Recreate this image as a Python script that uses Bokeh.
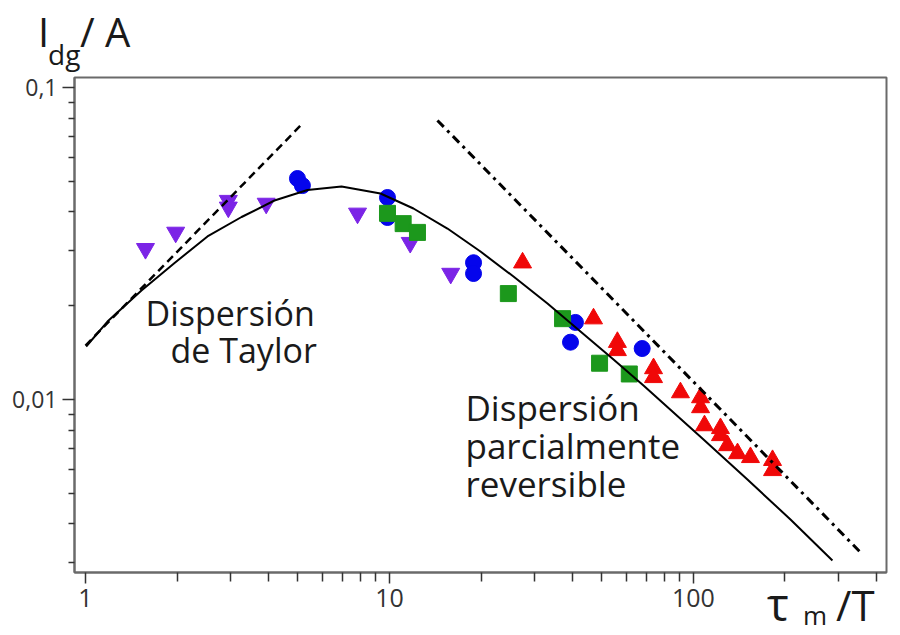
from bokeh.plotting import figure
from bokeh.models import FixedTicker, Label, Range1d, Div
from bokeh.layouts import column
from bokeh.embed import file_html
from bokeh.resources import INLINE

# ---------------- data ----------------
purple_x = [1.575, 1.98, 2.95, 2.95, 3.93, 7.85, 11.7, 15.9]
purple_y = [0.0305, 0.0344, 0.0435, 0.0414, 0.0426, 0.0396, 0.0319, 0.0254]

blue_x = [4.98, 5.17, 9.85, 9.85, 18.9, 18.9, 40.9, 39.4, 67.8]
blue_y = [0.0512, 0.0486, 0.0445, 0.0384, 0.0275, 0.0254, 0.0177, 0.0153, 0.0146]

green_x = [9.85, 11.09, 12.36, 24.6, 37.1, 49.1, 61.5]
green_y = [0.0396, 0.0367, 0.0344, 0.0219, 0.0182, 0.0131, 0.0121]

red_x = [27.4, 46.9, 56.2, 56.2, 73.9, 73.9, 90.6, 105.5, 105.5, 108.7,
         122.7, 122.7, 129.4, 139.6, 154.0, 182.0, 182.0]
red_y = [0.0275, 0.0182, 0.0153, 0.0144, 0.0126, 0.0118, 0.01055, 0.01017,
         0.00945, 0.00827, 0.0081, 0.00769, 0.00714, 0.00673, 0.00654,
         0.0064, 0.00594]

curve_x = [1.005, 1.181, 1.528, 1.963, 2.519, 3.261, 4.184, 5.374, 6.953,
           9.341, 11.99, 15.51, 19.92, 25.58, 33.09, 42.49, 54.57, 68.48,
           107.9, 150.5, 208.5, 286.5]
curve_y = [0.01482, 0.01782, 0.02240, 0.02745, 0.03338, 0.03854, 0.04353,
           0.04704, 0.04827, 0.04583, 0.04104, 0.03540, 0.02987, 0.02484,
           0.02035, 0.01656, 0.01346, 0.01111, 0.007459, 0.005554, 0.004134,
           0.003055]

taylor_x = [1.0, 5.10]
taylor_y = [0.01493, 0.0757]

reversible_x = [14.38, 354.0]
reversible_y = [0.0786, 0.003247]

x_ticks = [1, 10, 100]
x_tick_labels = ["1", "10", "100"]
x_minor = [2, 3, 4, 5, 6, 7, 8, 9, 20, 30, 40, 50, 60, 70, 80, 90, 200, 300, 400]
y_ticks = [0.01, 0.1]
y_tick_labels = ["0,01", "0,1"]
y_minor = [0.003, 0.004, 0.005, 0.006, 0.007, 0.008, 0.009,
           0.02, 0.03, 0.04, 0.05, 0.06, 0.07, 0.08, 0.09]

# axis titles
y_title = ["I", "dg", "/ A"]
x_title = ["τ", "m", "/T"]

FONT = "Open Sans"
TXT = "#1a1a1a"
PURPLE = "#7B24E6"
BLUE = "#0505EC"
GREEN = "#1C981C"
RED = "#F00808"

p = figure(width=900, height=635, x_axis_type="log", y_axis_type="log",
           x_range=Range1d(0.92, 431.5), y_range=Range1d(0.002796, 0.1079),
           output_backend="svg", toolbar_location=None,
           min_border_left=74, min_border_right=14, min_border_top=77,
           min_border_bottom=63)
p.grid.visible = False
p.outline_line_color = "#6a6a6a"
p.outline_line_width = 2
p.background_fill_color = "white"
p.border_fill_color = "white"

p.xaxis.ticker = FixedTicker(ticks=x_ticks, minor_ticks=x_minor)
p.yaxis.ticker = FixedTicker(ticks=y_ticks, minor_ticks=y_minor)
p.xaxis.major_label_overrides = dict(zip(x_ticks, x_tick_labels))
p.yaxis.major_label_overrides = dict(zip(y_ticks, y_tick_labels))

for ax in (p.xaxis, p.yaxis):
    ax.axis_line_color = "#6a6a6a"
    ax.axis_line_width = 2
    ax.major_tick_line_color = "#333333"
    ax.minor_tick_line_color = "#333333"
    ax.major_tick_line_width = 1.5
    ax.minor_tick_line_width = 1.5
    ax.major_tick_in = 0
    ax.minor_tick_in = 0
    ax.major_label_text_font = FONT
    ax.major_label_text_color = "#333333"
    ax.major_label_standoff = 5
p.xaxis.major_tick_out = 11
p.xaxis.minor_tick_out = 9
p.yaxis.major_tick_out = 12
p.yaxis.minor_tick_out = 6
p.xaxis.major_label_text_font_size = "25px"
p.yaxis.major_label_text_font_size = "23px"

# markers
p.scatter(purple_x, purple_y, marker="inverted_triangle", size=18,
          fill_color=PURPLE, line_color=PURPLE)
p.scatter(blue_x, blue_y, marker="circle", size=16,
          fill_color=BLUE, line_color=BLUE)
p.scatter(green_x, green_y, marker="square", size=16,
          fill_color=GREEN, line_color=GREEN)
p.scatter(red_x, red_y, marker="triangle", size=18,
          fill_color=RED, line_color=RED)

# lines
p.line(curve_x, curve_y, line_color="black", line_width=2)
p.line(taylor_x, taylor_y, line_color="black", line_width=2.5, line_dash="8 5")
p.line(reversible_x, reversible_y, line_color="black", line_width=3,
       line_dash="9 5 3 5")

# annotations inside the plot
inside = [("Dispersión", 1.575, 0.01891, "34px"),
          ("de Taylor", 1.904, 0.01439, "34px"),
          ("Dispersión", 17.78, 0.009482, "35px"),
          ("parcialmente", 17.78, 0.007139, "35px"),
          ("reversible", 17.78, 0.005391, "35px")]
for txt, lx, ly, fs in inside:
    p.add_layout(Label(x=lx, y=ly, text=txt, text_font=FONT,
                       text_font_size=fs, text_color=TXT,
                       text_baseline="alphabetic", text_align="left"))

# axis titles outside the frame: an overlay of real HTML text
def span(txt, left, top, size):
    return ('<span style="position:absolute;display:block;left:%.1fpx;'
            'top:%.1fpx;margin:0;padding:0;'
            'font-family:\'Open Sans\',sans-serif;font-size:%dpx;'
            'line-height:1;color:%s;white-space:nowrap;">%s</span>'
            % (left, top, size, TXT, txt))

html = "".join([
    span(y_title[0], 38, 12, 40),
    span(y_title[1], 48, 40, 28),
    span(y_title[2], 80, 12, 40),
    span(x_title[0], 767, 580, 46),
    span(x_title[1], 803, 602, 26),
    span(x_title[2], 836, 584, 42),
])
overlay = Div(text=html, width=900, height=635, margin=0,
              styles={"position": "absolute", "left": "0px", "top": "0px",
                      "margin": "0px", "padding": "0px",
                      "width": "900px", "height": "635px",
                      "overflow": "hidden", "pointer-events": "none",
                      "z-index": "10"})

layout = column(p, overlay)
open("out.html", "w").write(file_html(layout, INLINE))
